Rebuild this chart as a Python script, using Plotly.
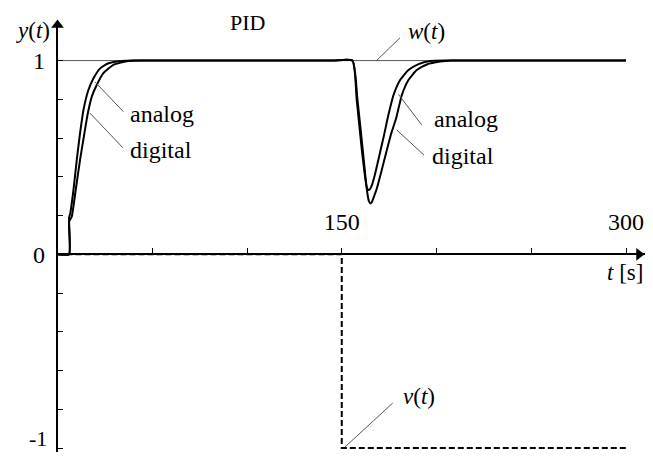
import plotly.graph_objects as go

# ---- data ----
t_analog = [0, 6.1, 6.1, 6.7, 8.4, 10.2, 11.9, 13.7, 16.3, 19, 22.5, 26.9, 33.9, 40, 50,
            145, 155.6, 157.9, 160.6, 162.3, 163.2, 164.1, 165.0, 166.0, 167.2, 169.3, 172.3,
            174.6, 177.3, 180.8, 185.2, 190.5, 196.6, 205, 215, 290, 300]
y_analog = [0, 0, 0.19, 0.21, 0.33, 0.49, 0.625, 0.745, 0.848, 0.909, 0.96, 0.986, 0.998, 1, 1,
            1, 1, 0.797, 0.538, 0.40, 0.347, 0.332, 0.338, 0.36, 0.40, 0.487, 0.615,
            0.719, 0.822, 0.9, 0.951, 0.982, 0.998, 1, 1, 1, 1]

t_digital = [0, 6.1, 6.1, 7.5, 9.6, 11.9, 14.2, 16, 18.1, 20.7, 24.2, 29.5, 37.4, 45, 55,
             145, 155.6, 158.3, 161.1, 162.6, 163.6, 164.3, 165.0, 165.8, 166.7, 168.5, 171.1,
             173.8, 176, 178.7, 181.7, 185.2, 189.6, 194.9, 201.9, 208, 218, 290, 300]
y_digital = [0, 0, 0.17, 0.194, 0.332, 0.487, 0.625, 0.728, 0.814, 0.874, 0.935, 0.978, 0.998, 1, 1,
             1, 1, 0.797, 0.538, 0.39, 0.31, 0.275, 0.263, 0.268, 0.29, 0.34, 0.435,
             0.538, 0.62, 0.702, 0.822, 0.9, 0.951, 0.98, 0.995, 1, 1, 1, 1]

t_w = [0, 300]
y_w = [1, 1]

t_v = [0, 150, 150, 300]
y_v = [0, 0, -1, -1]

x_tickvals = [50, 100, 150, 200, 250, 300]
x_ticktext = ["", "", "150", "", "", "300"]
y_tickvals = [-1, -0.8, -0.6, -0.4, -0.2, 0, 0.2, 0.4, 0.6, 0.8, 1]
y_ticktext = ["", "", "", "", "", "0", "", "", "", "", "1"]

# ---- geometry (pixels in the 653x460 window) ----
OFF = 8               # page body margin
WIN_W, WIN_H = 653, 460
W, H = WIN_W - 2 * OFF, WIN_H - 2 * OFF
RIGHT_PX = OFF + W
BOTTOM_PX = OFF + H
X0_PX = 57.5          # pixel of t=0
PX_PER_T = 1.895
Y0_PX = 254.3         # pixel of y=0
PX_PER_Y = 193.7
Y_TOP_PX = 22

x_range = [0, (RIGHT_PX - X0_PX) / PX_PER_T]
y_range = [(Y0_PX - BOTTOM_PX) / PX_PER_Y, (Y0_PX - Y_TOP_PX) / PX_PER_Y]

def px(x):
    return (x - OFF) / W

def py(y):
    return 1 - (y - OFF) / H

FONT = "Times New Roman, Liberation Serif, serif"
LEAD = "#555555"

fig = go.Figure()

fig.add_trace(go.Scatter(x=t_w, y=y_w, mode="lines",
                         line=dict(color="#555555", width=1)))
fig.add_trace(go.Scatter(x=t_v, y=y_v, mode="lines",
                         line=dict(color="black", width=2, dash="6px,3px")))
fig.add_trace(go.Scatter(x=t_digital, y=y_digital, mode="lines",
                         line=dict(color="black", width=2, shape="spline", smoothing=0.5)))
fig.add_trace(go.Scatter(x=t_analog, y=y_analog, mode="lines",
                         line=dict(color="black", width=2, shape="spline", smoothing=0.5)))

# axis arrowheads
fig.add_trace(go.Scatter(x=[0], y=[(Y0_PX - 25) / PX_PER_Y], mode="markers",
                         marker=dict(symbol="triangle-up", size=11, color="black"),
                         cliponaxis=False))
fig.add_trace(go.Scatter(x=[(RIGHT_PX - 6 - X0_PX) / PX_PER_T], y=[0], mode="markers",
                         marker=dict(symbol="triangle-right", size=11, color="black"),
                         cliponaxis=False))

# leader lines (data coords)
leaders = [
    ((19.8, 0.89), (34.8, 0.736)),
    ((17.0, 0.73), (34.5, 0.55)),
    ((168.1, 0.998), (180.7, 1.117)),
    ((179.9, 0.826), (192.2, 0.668)),
    ((179.0, 0.642), (193.4, 0.512)),
    ((151.7, -0.995), (176.9, -0.768)),
]
for (a, b) in leaders:
    fig.add_shape(type="line", x0=a[0], y0=a[1], x1=b[0], y1=b[1],
                  xref="x", yref="y", line=dict(color=LEAD, width=1))

labels = [
    ("<i>y</i>(<i>t</i>)", 33, 30, 23, "center"),
    ("PID", 247, 22, 22, "center"),
    ("<i>w</i>(<i>t</i>)", 426, 31, 23, "center"),
    ("analog", 162, 114, 24, "center"),
    ("digital", 161, 150, 24, "center"),
    ("analog", 466, 119, 24, "center"),
    ("digital", 463, 156, 24, "center"),
    ("<i>v</i>(<i>t</i>)", 419, 396, 23, "center"),
    ("<i>t</i> [s]", RIGHT_PX, 272, 23, "right"),
    ("-1", 49, 438, 22, "right"),
]
for text, x, y, s, anc in labels:
    fig.add_annotation(text=text, x=px(x), y=py(y), xref="paper", yref="paper",
                       xanchor=anc, yanchor="middle", showarrow=False,
                       font=dict(family=FONT, size=s, color="black"))

fig.update_layout(
    width=W, height=H,
    margin=dict(l=0, r=0, t=0, b=0, autoexpand=False),
    paper_bgcolor="white", plot_bgcolor="white",
    showlegend=False,
    font=dict(family=FONT, size=24, color="black"),
    xaxis=dict(domain=[(X0_PX - OFF) / W, 1], range=x_range, showgrid=False, zeroline=False,
               showline=True, linecolor="black", linewidth=1.5, automargin=False,
               anchor="free", position=1 - (Y0_PX - OFF) / H, side="top",
               ticks="outside", ticklen=6, tickcolor="black", tickwidth=1,
               tickvals=x_tickvals, ticktext=x_ticktext, ticklabelstandoff=8,
               ticklabeloverflow="allow",
               tickfont=dict(family=FONT, size=24, color="black")),
    yaxis=dict(domain=[0, 1 - (Y_TOP_PX - OFF) / H], range=y_range, showgrid=False,
               zeroline=False, showline=True, linecolor="black", linewidth=1.5, anchor="x",
               automargin=False,
               ticks="inside", ticklen=6, tickcolor="black", tickwidth=1,
               tickvals=y_tickvals, ticktext=y_ticktext, ticklabelstandoff=6,
               ticklabeloverflow="allow",
               tickfont=dict(family=FONT, size=24, color="black")),
)

fig.write_html("out.html")
